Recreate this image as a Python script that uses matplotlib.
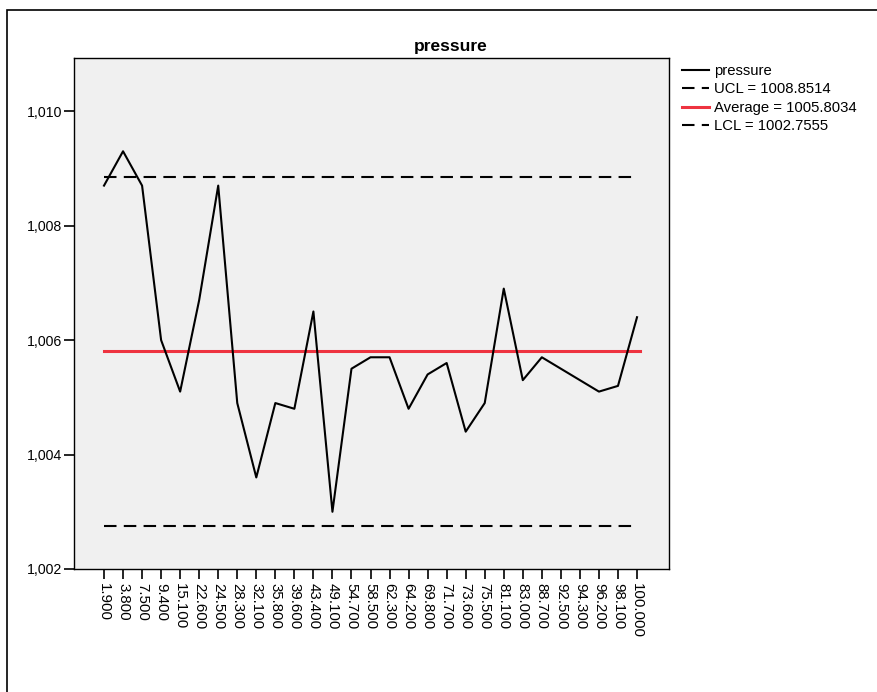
import matplotlib
matplotlib.use("Agg")
import matplotlib.pyplot as plt
from matplotlib.patches import Rectangle
from matplotlib.ticker import FuncFormatter

categories = ["1.900", "3.800", "7.500", "9.400", "15.100", "22.600", "24.500", "28.300",
              "32.100", "35.800", "39.600", "43.400", "49.100", "54.700", "58.500", "62.300",
              "64.200", "69.800", "71.700", "73.600", "75.500", "81.100", "83.000", "88.700",
              "92.500", "94.300", "96.200", "98.100", "100.000"]
pressure = [1008.7, 1009.3, 1008.7, 1006.0, 1005.1, 1006.7, 1008.7, 1004.9,
            1003.6, 1004.9, 1004.8, 1006.5, 1003.0, 1005.5, 1005.7, 1005.7,
            1004.8, 1005.4, 1005.6, 1004.4, 1004.9, 1006.9, 1005.3, 1005.7,
            1005.5, 1005.3, 1005.1, 1005.2, 1006.4]
ucl = 1008.8514
avg = 1005.8034
lcl = 1002.7555
yticks = [1002, 1004, 1006, 1008, 1010]

plt.rcParams['font.family'] = ['Liberation Sans', 'DejaVu Sans']

fig = plt.figure(figsize=(8.77, 6.92), dpi=100)
ax = fig.add_axes([74/877, 1-569/692, (669-74)/877, (569-58)/692])
ax.set_facecolor('#F0F0F0')

x = list(range(len(categories)))
ax.plot(x, pressure, color='black', lw=1.5, label='pressure', zorder=4)
ax.plot([x[0], x[-1]], [ucl, ucl], color='black', lw=1.5, dashes=(6, 3.5),
        label=f'UCL = {ucl:.4f}', zorder=3)
ax.plot([x[0], x[-1] + 0.15], [avg, avg], color='#EE3340', lw=2.2,
        label=f'Average = {avg:.4f}', zorder=3)
ax.plot([x[0], x[-1]], [lcl, lcl], color='black', lw=1.5, dashes=(6, 3.5),
        label=f'LCL = {lcl:.4f}', zorder=3)

ax.set_xlim(-1.576, 29.68)
ax.set_ylim(1002, 1010.93)
ax.set_xticks(x)
ax.set_xticklabels(categories, rotation=270, fontsize=10.8)
ax.set_yticks(yticks)
ax.yaxis.set_major_formatter(FuncFormatter(lambda v, p: f"{int(round(v)):,}"))
ax.tick_params(axis='both', direction='out', length=7, width=1.2,
               color='black', pad=1.5)
ax.tick_params(axis='y', labelsize=10.2)
ax.tick_params(axis='x', pad=3)
for s in ax.spines.values():
    s.set_linewidth(1.0)
    s.set_color('black')

fig.text(451/877, 1-46/692, 'pressure', fontsize=12.5, fontweight='bold',
         ha='center', va='center')

leg_handles, leg_labels = ax.get_legend_handles_labels()
leg = fig.legend(leg_handles, leg_labels, loc='upper left',
                 bbox_to_anchor=(682/877, 1-64/692), frameon=False, fontsize=10.7,
                 handlelength=1.8, handletextpad=0.35, labelspacing=0.3,
                 borderpad=0, borderaxespad=0)

# outer frame (chart border)
fig.add_artist(Rectangle((7/877, -0.2), 1.3, 1-10/692+0.2, transform=fig.transFigure,
                         fill=False, edgecolor='black', lw=1.2))

fig.savefig('out.png', dpi=100)
